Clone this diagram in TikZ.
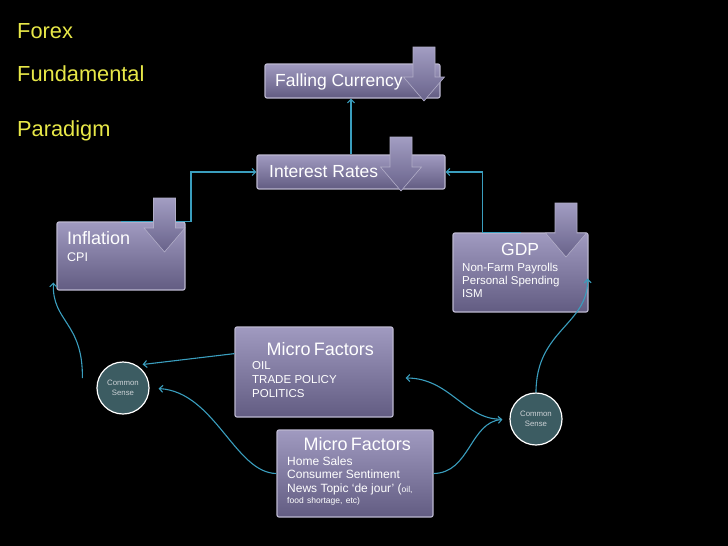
\documentclass[tikz,border=0pt]{standalone}
\usepackage{fontspec}
\setmainfont{Liberation Sans}
\usetikzlibrary{arrows.meta,calc}

\definecolor{titlecol}{RGB}{232,232,72}
\definecolor{boxtop}{RGB}{160,154,192}
\definecolor{boxbot}{RGB}{98,92,130}
\definecolor{boxrim}{RGB}{188,184,208}
\definecolor{arrowtop}{RGB}{162,157,194}
\definecolor{arrowbot}{RGB}{104,98,138}
\definecolor{arrowrim}{RGB}{178,174,200}
\definecolor{linkcol}{RGB}{58,158,190}
\definecolor{sensefill}{RGB}{60,92,98}
\definecolor{sensetext}{RGB}{205,210,214}

\begin{document}
\begin{tikzpicture}[
    x=1pt, y=-1pt,
    % Styles for boxes, circles and connectors
    factorbox/.style={rectangle, rounded corners=2, draw=boxrim, line width=1.2, top color=boxtop, bottom color=boxbot, inner sep=0},
    factortext/.style={anchor=base west, inner sep=0, text=white, align=left},
    sense/.style={circle, minimum size=52, inner sep=0, draw=white, line width=1.2, fill=sensefill, text=sensetext, font=\fontsize{7.8}{9.5}\selectfont, align=center},
    titletext/.style={anchor=base west, inner sep=0, text=titlecol, font=\fontsize{21.8}{25}\selectfont},
    link/.style={-{Straight Barb[length=3.5pt,width=7pt]}, line width=1.1, draw=linkcol},
    droparrow/.pic={\path[draw=arrowrim, line width=0.6, top color=arrowtop, bottom color=arrowbot] (-11,0) -- (11,0) -- (11,30) -- (20.5,30) -- (0,54) -- (-20.5,30) -- (-11,30) -- cycle;}
]
\useasboundingbox (0,0) rectangle (728,546);
\fill[black] (0,0) rectangle (728,546);

% --- TITLE ---
\node[titletext] (forex) at (17,38) {Forex};
\node[titletext] (fundamental) at (17,81) {Fundamental};
\node[titletext] (paradigm) at (17,136) {Paradigm};

% --- BOXES ---
\node[factorbox, minimum width=175, minimum height=34] (falling) at (352.5,81) {};
\node[factorbox, minimum width=188, minimum height=34] (interest) at (351,172) {};
\node[factorbox, minimum width=128, minimum height=68] (inflation) at (121,256) {};
\node[factorbox, minimum width=135, minimum height=79] (gdp) at (520.5,272.5) {};
\node[factorbox, minimum width=158, minimum height=90] (micro1) at (314,372) {};
\node[factorbox, minimum width=156, minimum height=87] (micro2) at (355,473.5) {};

% --- COMMON SENSE ---
\node[sense] (cs1) at (123,388) {Common\\Sense};
\node[sense] (cs2) at (536,419) {Common\\Sense};

% --- CONNECTORS ---
\draw[link] (inflation.north) -- ++(70,0) |- (interest.west);
\draw[link] (gdp.north) -- ++(-38,0) |- (interest.east);
\draw[link] (interest.north) -- (interest.north |- falling.south);

\draw[link] ($(cs1.west)+(-14,-10)$) .. controls (83,322) and (52,322) .. ($(inflation.south west)+(-3,-8)$);
\draw[link] (cs2.north) .. controls (536,330) and (588,325) .. ($(gdp.south east)+(-1,-34)$);

\draw[link, shorten >=6pt] (micro1.167) -- (cs1.59);
\draw[link, shorten >=9pt] (micro2.west) .. controls (235,473) and (215,392) .. (cs1.east);
\draw[link, shorten >=7pt] (micro2.east) .. controls (470,473) and (470,422) .. (cs2.west);
\draw[link, shorten <=8pt] (cs2.west) .. controls (465,420) and (450,378) .. ($(micro1.east)+(12,6)$);

% --- DOWN ARROWS ---
\pic at (424,47) {droparrow};
\pic at (401,137) {droparrow};
\pic at (164.5,198) {droparrow};
\pic at (566,203) {droparrow};

% --- TEXTS ---
\node[factortext, font=\fontsize{17.5}{20}\selectfont] (fallingtxt) at (275,86) {Falling Currency};
\node[factortext, font=\fontsize{17.5}{20}\selectfont] (interesttxt) at (269,177) {Interest Rates};
\node[factortext, text width=110] (inflationtxt) at (67,244) {{\fontsize{18}{20}\selectfont Inflation\par}{\fontsize{12.5}{17}\selectfont CPI\par}};
\node[factortext, text width=116] (gdptxt) at (462,255) {{\centering\fontsize{17.5}{20}\selectfont GDP\par}{\fontsize{11.5}{16}\selectfont Non-Farm Payrolls\par}{\fontsize{11.5}{13}\selectfont Personal Spending\par ISM\par}};
\node[factortext, text width=136] (micro1txt) at (252,355) {{\centering\fontsize{18}{20}\selectfont Micro Factors\par}{\fontsize{11.5}{14}\selectfont OIL\par TRADE POLICY\par POLITICS\par}};
\node[factortext, text width=140] (micro2txt) at (287,450) {{\centering\fontsize{18}{20}\selectfont Micro Factors\par}{\fontsize{12}{15}\selectfont Home Sales\par}{\fontsize{12}{13.5}\selectfont Consumer Sentiment\par News Topic ‘de jour’ ({\fontsize{8.5}{10}\selectfont oil,}\par}{\fontsize{8.5}{11}\selectfont food shortage, etc)\par}};

\end{tikzpicture}
\end{document}
